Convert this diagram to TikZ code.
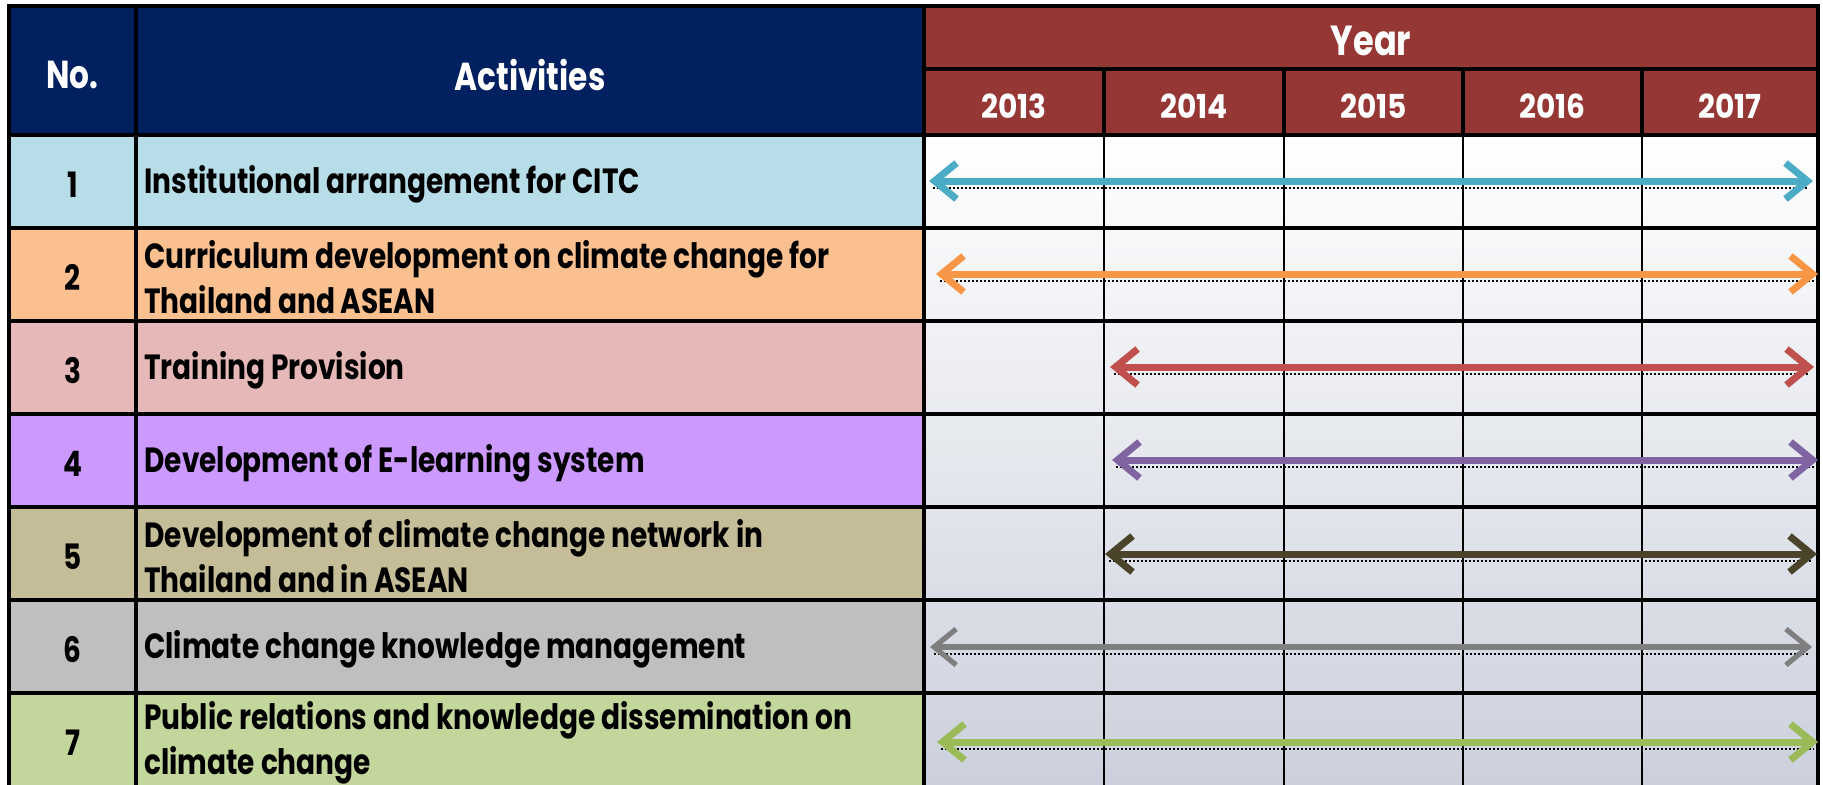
\documentclass[tikz,border=0pt]{standalone}
\usepackage{fontspec}
\setmainfont{Poppins}[FakeStretch=0.8]
\newfontfamily\digitfont{Poppins}[FakeStretch=0.9]
\usepackage{tikz}
\usetikzlibrary{arrows.meta}
\definecolor{navy}{HTML}{002060}
\definecolor{yearred}{HTML}{953735}
\definecolor{gridbot}{RGB}{203,208,220}
\definecolor{r1}{HTML}{B7DEE8}
\definecolor{r2}{HTML}{FAC090}
\definecolor{r3}{HTML}{E6B9B8}
\definecolor{r4}{HTML}{CC99FF}
\definecolor{r5}{HTML}{C4BD97}
\definecolor{r6}{HTML}{BFBFBF}
\definecolor{r7}{HTML}{C3D69B}
\definecolor{a1}{HTML}{4BACC6}
\definecolor{a2}{HTML}{F79646}
\definecolor{a3}{HTML}{C0504D}
\definecolor{a4}{HTML}{8064A2}
\definecolor{a5}{HTML}{4A452A}
\definecolor{a6}{HTML}{7F7F7F}
\definecolor{a7}{HTML}{9BBB59}
\tikzset{
    headtext/.style={
        text=white,
        inner sep=0pt,
        yshift=-2pt,
        font=\bfseries\fontsize{19.5}{22}\selectfont
    },
    yeartext/.style={
        text=white,
        inner sep=0pt,
        yshift=-1.5pt,
        font=\digitfont\bfseries\fontsize{16.5}{18}\selectfont
    },
    numtext/.style={
        inner sep=0pt,
        yshift=-1.5pt,
        font=\bfseries\fontsize{17.5}{22.5}\selectfont
    },
    acttext/.style={
        anchor=west,
        align=left,
        inner sep=0pt,
        yshift=-1.5pt,
        font=\bfseries\fontsize{17.5}{22.5}\selectfont
    },
    plan/.style={
        <->,
        >={Straight Barb[length=11pt, width=18pt]},
        line width=3.5pt,
        preaction={draw=black, -, line width=0.8pt, dash pattern=on 1pt off 1pt,
            shorten <=2pt, shorten >=2pt, transform canvas={yshift=-3.5pt}}
    }
}

\begin{document}
\begin{tikzpicture}[x=0.5pt, y=-0.5pt]
    \useasboundingbox (0,0) rectangle (1823,784);
    % Header
    \fill[navy] (9,6) rectangle (924,135);
    \fill[yearred] (924,6) rectangle (1818,135);
    \node[headtext] (hno) at (72.5,71) {No.};
    \node[headtext] (hact) at (530,71) {Activities};
    \node[headtext, yshift=0.5pt, font=\bfseries\fontsize{21}{22}\selectfont] (hyear) at (1371,38) {Year};
    \node[yeartext] (y2013) at (1014,103) {2013};
    \node[yeartext] (y2014) at (1194,103) {2014};
    \node[yeartext] (y2015) at (1373.5,103) {2015};
    \node[yeartext] (y2016) at (1552.5,103) {2016};
    \node[yeartext] (y2017) at (1730,103) {2017};

    % Rows
    \fill[r1] (9,135) rectangle (924,228);
    \fill[r2] (9,228) rectangle (924,321);
    \fill[r3] (9,321) rectangle (924,414);
    \fill[r4] (9,414) rectangle (924,507);
    \fill[r5] (9,507) rectangle (924,600);
    \fill[r6] (9,600) rectangle (924,693);
    \fill[r7] (9,693) rectangle (924,786);
    \shade[top color=white, bottom color=gridbot] (924,135) rectangle (1818,786);

    \node[numtext] (no1) at (72.5,181.5) {1};
    \node[numtext] (no2) at (72.5,274.5) {2};
    \node[numtext] (no3) at (72.5,367.5) {3};
    \node[numtext] (no4) at (72.5,460.5) {4};
    \node[numtext] (no5) at (72.5,553.5) {5};
    \node[numtext] (no6) at (72.5,646.5) {6};
    \node[numtext] (no7) at (72.5,739.5) {7};
    \node[acttext] (act1) at (144,181.5) {Institutional arrangement for CITC};
    \node[acttext] (act2) at (144,274.5) {Curriculum development on climate change for\\Thailand and ASEAN};
    \node[acttext] (act3) at (144,367.5) {Training Provision};
    \node[acttext] (act4) at (144,460.5) {Development of E-learning system};
    \node[acttext] (act5) at (144,553.5) {Development of climate change network in\\Thailand and in ASEAN};
    \node[acttext] (act6) at (144,646.5) {Climate change knowledge management};
    \node[acttext] (act7) at (144,739.5) {Public relations and knowledge dissemination on\\climate change};

    % Grid lines
    \draw[line width=1.2pt] (1104,69) -- (1104,786) (1284,69) -- (1284,786)
        (1463,69) -- (1463,786) (1642,69) -- (1642,786);
    \draw[line width=2pt] (1104,69) -- (1104,135) (1284,69) -- (1284,135)
        (1463,69) -- (1463,135) (1642,69) -- (1642,135);
    \draw[line width=2pt] (924,69) -- (1818,69);
    \draw[line width=2pt] (9,135) -- (1818,135) (9,228) -- (1818,228)
        (9,321) -- (1818,321) (9,414) -- (1818,414) (9,507) -- (1818,507)
        (9,600) -- (1818,600) (9,693) -- (1818,693);
    \draw[line width=2pt] (136,6) -- (136,786) (924,6) -- (924,786);
    \draw[line width=2pt] (9,786) -- (9,6) -- (1818,6) -- (1818,786);

    % Time spans
    \coordinate (s1) at (929,181);  \coordinate (e1) at (1813,181);
    \coordinate (s2) at (936,274);  \coordinate (e2) at (1818,274);
    \coordinate (s3) at (1110,367); \coordinate (e3) at (1814,367);
    \coordinate (s4) at (1112,460); \coordinate (e4) at (1818,460);
    \coordinate (s5) at (1105,554); \coordinate (e5) at (1817,554);
    \coordinate (s6) at (930,647);  \coordinate (e6) at (1812,647);
    \coordinate (s7) at (937,742);  \coordinate (e7) at (1818,742);
    \draw[plan, a1] (s1) -- (e1);
    \draw[plan, a2] (s2) -- (e2);
    \draw[plan, a3] (s3) -- (e3);
    \draw[plan, a4] (s4) -- (e4);
    \draw[plan, a5] (s5) -- (e5);
    \draw[plan, a6, line width=2.6pt] (s6) -- (e6);
    \draw[plan, a7] (s7) -- (e7);
\end{tikzpicture}
\end{document}
